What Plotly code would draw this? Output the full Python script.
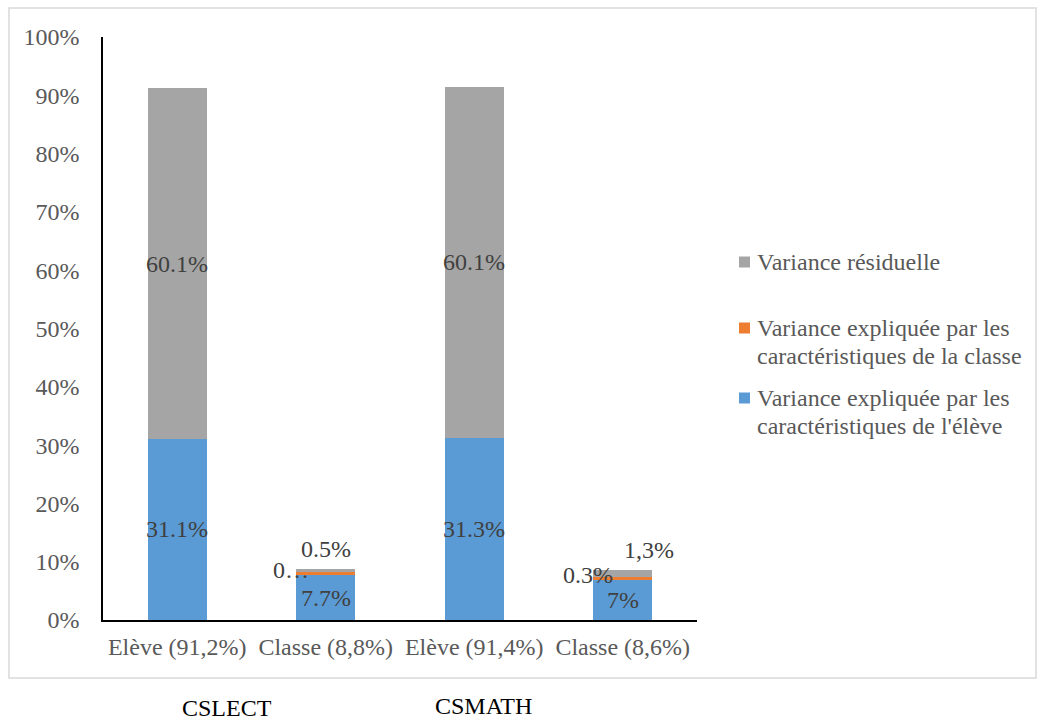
import plotly.graph_objects as go

# Variance decomposition (in %) for the two outcome scores
categories = ["Elève (91,2%)", "Classe (8,8%)", "Elève (91,4%)", "Classe (8,6%)"]
eleve_explained = [31.1, 7.7, 31.3, 7.0]
classe_explained = [0.0, 0.6, 0.0, 0.3]
residual = [60.1, 0.5, 60.1, 1.3]

eleve_labels = ["31.1%", "7.7%", "31.3%", "7%"]
classe_labels = ["", "0…", "", "0.3%"]
residual_labels = ["60.1%", "0.5%", "60.1%", "1,3%"]

group_titles = ["CSLECT", "CSMATH"]
tick_values = list(range(0, 101, 10))
tick_text = [f"{v}%" for v in tick_values]

series_lines = [
    ["Variance expliquée par les", "caractéristiques de l'élève"],
    ["Variance expliquée par les", "caractéristiques de la classe"],
    ["Variance résiduelle"],
]
colors = ["#5B9BD5", "#ED7D31", "#A5A5A5"]

FONT = "Liberation Serif, Times New Roman, serif"
FS = 24
L, R, T, B = 103, 347, 37, 103
W, H = 1044, 723
PW, PH = W - L - R, H - T - B


def px_x(px):
    return (px - L) / PW


def px_y(py):
    return (H - B - py) / PH


fig = go.Figure()
for vals, lines, col in zip([eleve_explained, classe_explained, residual], series_lines, colors):
    fig.add_trace(go.Bar(x=categories, y=vals, name=" ".join(lines),
                         marker=dict(color=col, line=dict(width=0)), showlegend=False))

annotations = []
lbl_font = dict(family=FONT, size=FS, color="#404040")
for i, cat in enumerate(categories):
    b, o, g = eleve_explained[i], classe_explained[i], residual[i]
    annotations.append(dict(x=cat, y=b / 2, text=eleve_labels[i], showarrow=False, font=lbl_font))
    if g > 5:
        # tall bars: residual label centred inside its segment
        annotations.append(dict(x=cat, y=b + o + g / 2, text=residual_labels[i], showarrow=False, font=lbl_font))
    else:
        annotations.append(dict(x=cat, y=b + o / 2, text=classe_labels[i], showarrow=False, font=lbl_font,
                                xshift=-35, yshift=3))
        annotations.append(dict(x=cat, y=b + o + g, text=residual_labels[i], showarrow=False, font=lbl_font,
                                xshift=0 if i == 1 else 26, yshift=20))

# Legend drawn as markers + text lines to the right of the plot
legend_rows = [(2, 262), (1, 328), (0, 398)]
shapes = []
leg_font = dict(family=FONT, size=FS, color="#595959")
for idx, py in legend_rows:
    shapes.append(dict(type="rect", xref="paper", yref="paper",
                       x0=px_x(739), x1=px_x(750), y0=px_y(py + 5.5), y1=px_y(py - 5.5),
                       fillcolor=colors[idx], line=dict(width=0)))
    for k, line in enumerate(series_lines[idx]):
        annotations.append(dict(xref="paper", yref="paper", x=px_x(755), y=px_y(py + 28 * k),
                                xanchor="left", yanchor="middle", showarrow=False,
                                text=line, font=leg_font))

# Chart frame
shapes.append(dict(type="rect", xref="paper", yref="paper",
                   x0=px_x(9), x1=px_x(1036), y0=px_y(678), y1=px_y(8),
                   line=dict(color="#D9D9D9", width=1.5), fillcolor="rgba(0,0,0,0)", layer="below"))

# Group titles under the frame
for title, px, py in zip(group_titles, [227, 483], [708, 706]):
    annotations.append(dict(xref="paper", yref="paper", x=px_x(px), y=px_y(py),
                            xanchor="center", yanchor="middle",
                            text=title, showarrow=False, font=dict(family=FONT, size=FS, color="#000000")))

fig.update_layout(
    barmode="stack",
    bargap=0.6,
    width=W, height=H,
    margin=dict(l=L, r=R, t=T, b=B, pad=0),
    plot_bgcolor="white", paper_bgcolor="white",
    font=dict(family=FONT, size=FS, color="#595959"),
    showlegend=False,
    annotations=annotations,
    shapes=shapes,
)
fig.update_xaxes(showline=True, linecolor="#000000", linewidth=1.5, showgrid=False, ticks="",
                 tickfont=dict(family=FONT, size=FS, color="#595959"), ticklabelstandoff=4)
fig.update_yaxes(range=[0, 100], tickmode="array", tickvals=tick_values, ticktext=tick_text,
                 showline=True, linecolor="#000000", linewidth=1.5, showgrid=False, ticks="",
                 zeroline=False, tickfont=dict(family=FONT, size=FS, color="#595959"),
                 ticklabelstandoff=17)

fig.write_html("out.html")
